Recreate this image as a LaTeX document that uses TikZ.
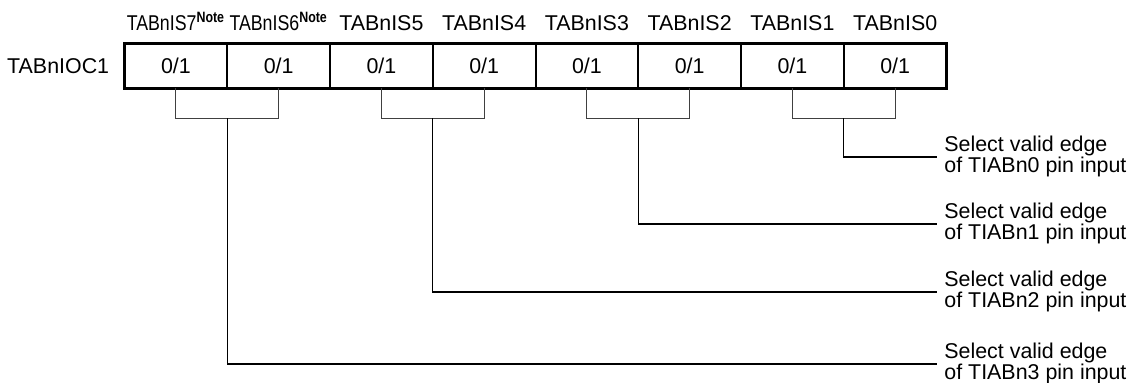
\documentclass[tikz,border=0pt]{standalone}
\usepackage{fontspec}
\setsansfont{Liberation Sans}
\usepackage{graphicx}
\usetikzlibrary{positioning,calc}

\begin{document}
\begin{tikzpicture}[x=0.5pt, y=-0.5pt, font=\sffamily\fontsize{10.7}{10.5}\selectfont,
  bit/.style={draw, line width=0.5pt, minimum width=50.875pt, minimum height=22pt, inner sep=0pt},
  bitname/.style={inner sep=0pt},
  brk/.style={draw=black!75, line width=0.5pt},
  sel/.style={draw=black, line width=0.6pt},
  desc/.style={align=left, inner sep=0pt, anchor=north west}]
  \useasboundingbox (0,0) rectangle (1128,383);
  % register cells
  \node[bit] (c7) at (175.875,66) {0/1};
  \node[bit, right=0pt of c7] (c6) {0/1};
  \node[bit, right=0pt of c6] (c5) {0/1};
  \node[bit, right=0pt of c5] (c4) {0/1};
  \node[bit, right=0pt of c4] (c3) {0/1};
  \node[bit, right=0pt of c3] (c2) {0/1};
  \node[bit, right=0pt of c2] (c1) {0/1};
  \node[bit, right=0pt of c1] (c0) {0/1};
  \draw[line width=1.1pt] (c7.north west) rectangle (c0.south east);
  \node[bitname, left=7.5pt of c7] (reg) {TABnIOC1};
  % bit names
  \node[bitname, above=6pt of c7] (l7) {\scalebox{0.83}[1]{TABnIS7\textsuperscript{\bfseries Note}}};
  \node[bitname, above=6pt of c6] (l6) {\scalebox{0.83}[1]{TABnIS6\textsuperscript{\bfseries Note}}};
  \node[bitname, above=6pt of c5] (l5) {TABnIS5};
  \node[bitname, above=6pt of c4] (l4) {TABnIS4};
  \node[bitname, above=6pt of c3] (l3) {TABnIS3};
  \node[bitname, above=6pt of c2] (l2) {TABnIS2};
  \node[bitname, above=6pt of c1] (l1) {TABnIS1};
  \node[bitname, above=6pt of c0] (l0) {TABnIS0};
  % brackets
  \draw[brk] (c7.south) -- ++(0,30) -| (c6.south);
  \draw[brk] (c5.south) -- ++(0,30) -| (c4.south);
  \draw[brk] (c3.south) -- ++(0,30) -| (c2.south);
  \draw[brk] (c1.south) -- ++(0,30) -| (c0.south);
  \coordinate (s3) at ($(c7.south east)+(0,30)$);
  \coordinate (s2) at ($(c5.south east)+(0,30)$);
  \coordinate (s1) at ($(c3.south east)+(0,30)$);
  \coordinate (s0) at ($(c1.south east)+(0,30)$);
  % descriptions
  \node[desc] (d0) at (944,136) {Select valid edge\\of TIABn0 pin input};
  \node[desc] (d1) at (944,203) {Select valid edge\\of TIABn1 pin input};
  \node[desc] (d2) at (944,271) {Select valid edge\\of TIABn2 pin input};
  \node[desc] (d3) at (944,343) {Select valid edge\\of TIABn3 pin input};
  \coordinate (e0) at (937,157);
  \coordinate (e1) at (937,224);
  \coordinate (e2) at (937,292);
  \coordinate (e3) at (937,364);
  \draw[sel] (s0) |- (e0);
  \draw[sel] (s1) |- (e1);
  \draw[sel] (s2) |- (e2);
  \draw[sel] (s3) |- (e3);
\end{tikzpicture}
\end{document}
